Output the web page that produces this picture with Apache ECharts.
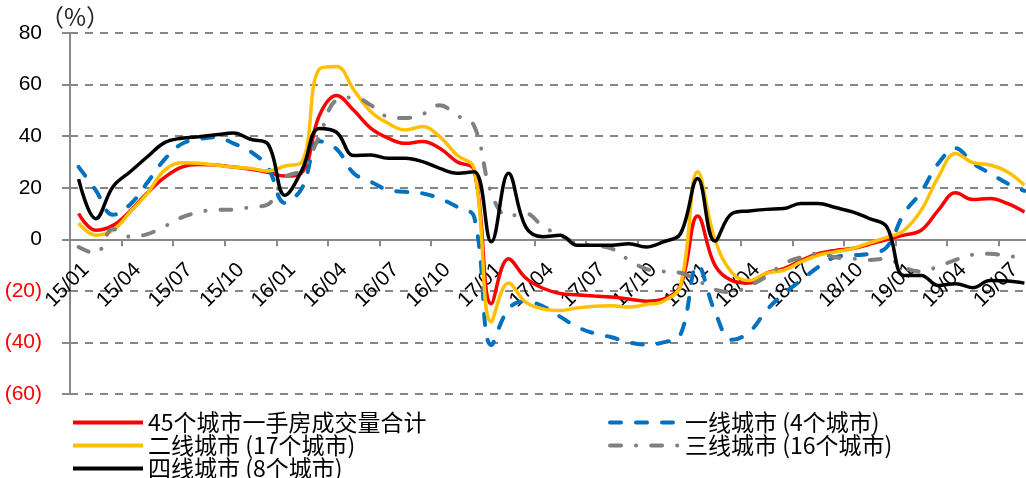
<!DOCTYPE html>
<html>
<head>
<meta charset="utf-8">
<script src="https://cdn.jsdelivr.net/npm/echarts@6/dist/echarts.min.js"></script>
<style>
  html, body { margin: 0; padding: 0; background: #fff; }
  #chart { width: 1026px; height: 478px; }
</style>
</head>
<body>
<div id="chart"></div>
<script>
// months 15/01 .. 19/08
const categories = [
  '15/01','15/02','15/03','15/04','15/05','15/06','15/07','15/08','15/09','15/10','15/11','15/12',
  '16/01','16/02','16/03','16/04','16/05','16/06','16/07','16/08','16/09','16/10','16/11','16/12',
  '17/01','17/02','17/03','17/04','17/05','17/06','17/07','17/08','17/09','17/10','17/11','17/12',
  '18/01','18/02','18/03','18/04','18/05','18/06','18/07','18/08','18/09','18/10','18/11','18/12',
  '19/01','19/02','19/03','19/04','19/05','19/06','19/07','19/08'
]

const seriesNames = [
  '45个城市一手房成交量合计',
  '一线城市 (4个城市)',
  '二线城市 (17个城市)',
  '三线城市 (16个城市)',
  '四线城市 (8个城市)'
]

const total45 = [
  10, 3.5, 5.4, 11, 18, 24, 28, 29, 28.8, 28, 27.2, 26,
  24.5, 26, 48, 55.8, 50, 43, 39.2, 37.2, 37.9, 35.3, 30.1, 26.8,
  -25, -7.5, -15, -19, -21, -21.5, -22, -22.4, -23.2, -24, -23.2, -18,
  9, -10, -16, -17, -13.1, -11.4, -8.2, -5.6, -4.3, -3.6, -1.9, -0.1,
  1.6, 3.5, 11.3, 18, 15.4, 15.8, 13.9, 10.6
]

const tier1 = [
  28.1, 19, 9.5, 13.5, 22, 31, 37, 38.8, 39.6, 37.2, 34, 28,
  14.1, 20, 38, 35, 25.6, 22.3, 19.1, 18.4, 17.8, 15.8, 12.6, 8.7,
  -41, -27, -24, -26, -30, -34, -36.5, -38, -40, -40.8, -40, -37,
  -10, -28, -39, -36, -27.6, -21.1, -16, -10.8, -6.9, -6.2, -5.6, -3,
  10, 18.4, 29.5, 35.3, 29.5, 25.6, 21.7, 18.8
]

const tier2 = [
  6.3, 1.6, 3.5, 10.6, 17.8, 26.8, 29.7, 29.5, 28.8, 28, 27.5, 26.5,
  28.4, 30, 66, 67, 58, 49.5, 45, 42.4, 43.7, 39.8, 32.7, 27.5,
  -32, -17, -24.4, -27, -27.6, -26.6, -26, -25.8, -26.3, -25.3, -24, -18,
  26.2, 0, -13, -16, -13.1, -12, -8.8, -6.2, -4.9, -3.6, -1.4, 0.7,
  3.5, 11.3, 24.2, 33.3, 29.7, 28.8, 26.2, 21
]

const tier3 = [
  -3, -5.5, 4, 1, 2, 5, 8.5, 10.5, 11.5, 11.5, 12.5, 13.5,
  24, 27, 40, 54, 55, 52, 47.5, 47, 48.5, 52, 48, 44,
  18, 9, 10, 5, 1.5, -1.5, -2.5, -3.6, -8, -11.5, -12.5, -13,
  -16, -19.5, -20.5, -18, -14.4, -9.5, -7, -5.5, -7, -7.5, -8, -7.5,
  -11, -12.5, -10.5, -8, -6, -5.6, -6.5, -7
]

const tier4 = [
  23.3, 8, 20.4, 26.2, 32, 37.5, 39.2, 39.8, 40.5, 41.2, 38.8, 37,
  17.1, 27, 43, 41.5, 32.5, 32.7, 31.4, 31.4, 30.1, 27.5, 25.6, 26.2,
  -1, 25.6, 4.8, 1, 1.6, -2.3, -2.3, -2.3, -1.7, -3, -1, 2.2,
  23.6, -0.7, 10, 11, 11.6, 11.9, 13.9, 13.9, 12.3, 10.6, 8, 4.8,
  -14, -14, -17.9, -17.2, -18.8, -16, -16.2, -17
]

const chart = echarts.init(document.getElementById('chart'))

const numFont = 'Liberation Sans, Arial, sans-serif'
const cjkFont = 'Noto Sans CJK SC, sans-serif'
const axisGray = '#898989'

const Y_MIN = -60
const Y_MAX = 80
const GRID_TOP = 33
const GRID_BOTTOM = 84
const plotH = 478 - GRID_TOP - GRID_BOTTOM
// move the category axis (line, ticks and labels) up to the zero line
const zeroOffset = -plotH * (0 - Y_MIN) / (Y_MAX - Y_MIN)

const lineSeries = (name, data, color, width, dash) => ({
  name: name,
  type: 'line',
  data: data,
  smooth: 0.4,
  symbol: 'none',
  lineStyle: {
    color: color,
    width: width,
    type: dash || 'solid',
    cap: dash ? 'round' : 'butt'
  },
  itemStyle: { color: color }
})

const legendText = {
  fontFamily: cjkFont,
  fontSize: 23,
  lineHeight: 21,
  color: '#000'
}

const legendBase = {
  orient: 'vertical',
  top: 411,
  height: 70,
  padding: 0,
  itemWidth: 70,
  itemHeight: 14,
  itemGap: 0,
  textStyle: legendText,
  lineStyle: { width: 4 },
  itemStyle: { opacity: 0 }
}

const option = {
  animation: false,
  backgroundColor: '#fff',
  title: {
    text: '（%）',
    left: 40,
    top: 5,
    padding: 0,
    textStyle: { fontFamily: cjkFont, fontSize: 24, fontWeight: 'normal', color: '#222' }
  },
  grid: {
    left: 70,
    right: -7,
    top: GRID_TOP,
    bottom: GRID_BOTTOM,
    outerBoundsMode: 'none'
  },
  legend: [
    Object.assign({}, legendBase, {
      left: 71,
      data: [seriesNames[0], seriesNames[2], seriesNames[4]]
    }),
    Object.assign({}, legendBase, {
      left: 608,
      data: [seriesNames[1], seriesNames[3]]
    })
  ],
  xAxis: {
    type: 'category',
    data: categories,
    boundaryGap: true,
    offset: zeroOffset,
    axisLine: { onZero: false, lineStyle: { color: axisGray, width: 2 } },
    axisTick: { show: true, interval: 2, length: 7, lineStyle: { color: axisGray, width: 2 } },
    axisLabel: {
      interval: 2,
      rotate: 45,
      align: 'right',
      verticalAlign: 'top',
      margin: 20,
      fontFamily: numFont,
      fontSize: 21,
      color: '#000'
    },
    splitLine: { show: false }
  },
  yAxis: {
    type: 'value',
    min: Y_MIN,
    max: Y_MAX,
    interval: 20,
    axisLine: { show: true, lineStyle: { color: axisGray, width: 2 } },
    axisTick: { show: true, length: 8, lineStyle: { color: axisGray, width: 2 } },
    axisLabel: {
      margin: 28,
      fontFamily: numFont,
      fontSize: 21,
      formatter: v => (v < 0 ? '(' + (-v) + ')' : String(v)),
      color: v => (Number(v) < 0 ? '#ff0000' : '#000')
    },
    splitLine: {
      show: true,
      lineStyle: { color: '#868686', width: 2, type: [8, 7] }
    }
  },
  series: [
    lineSeries(seriesNames[0], total45, '#ff0000', 3.5),
    lineSeries(seriesNames[1], tier1, '#0070c0', 4, [11, 15]),
    lineSeries(seriesNames[2], tier2, '#ffc000', 3.5),
    lineSeries(seriesNames[3], tier3, '#808080', 4, [11, 15, 0.1, 15]),
    lineSeries(seriesNames[4], tier4, '#000000', 3.5)
  ]
}

chart.setOption(option)
</script>
</body>
</html>
